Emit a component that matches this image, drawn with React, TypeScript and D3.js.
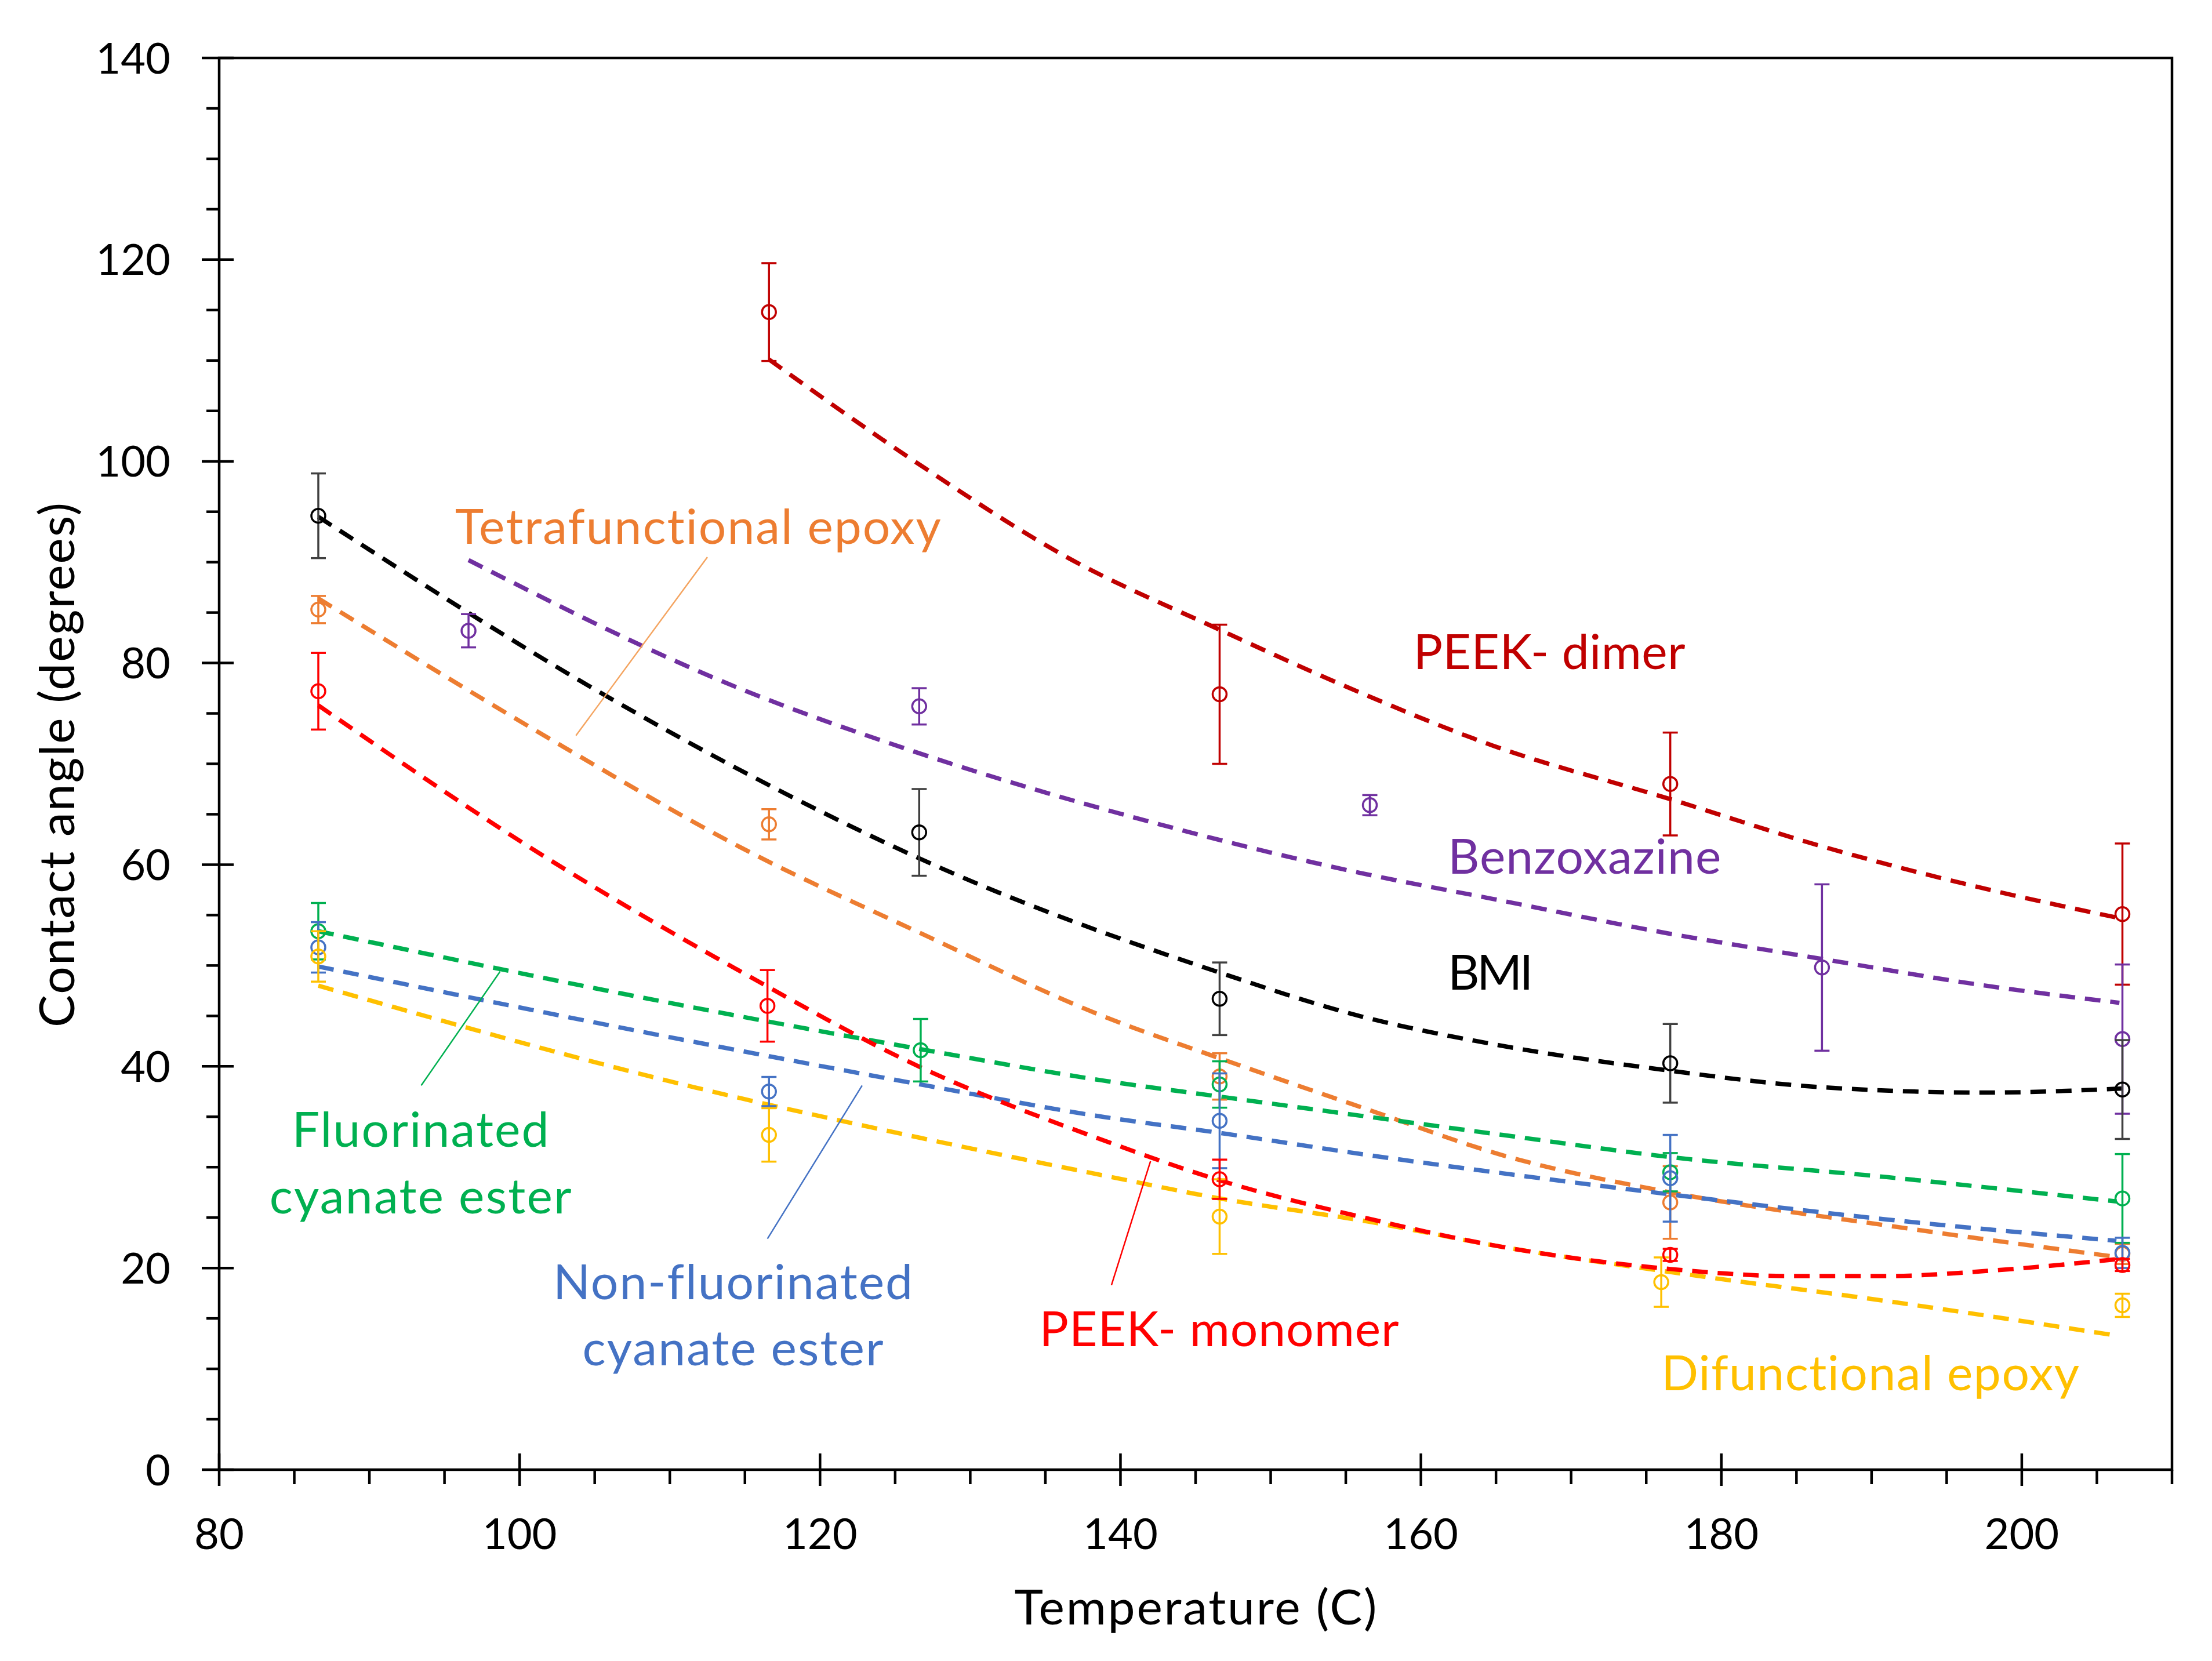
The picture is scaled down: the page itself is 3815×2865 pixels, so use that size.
import { useEffect, useRef } from 'react';
import * as d3 from 'd3';

const WIDTH = 3815;
const HEIGHT = 2865;
const margin = { top: 100, right: 69, bottom: 330, left: 378 };

// measured points (temperature, contact angle, error)
const dimerT = [116.6, 146.6, 176.6, 206.7];
const dimerV = [114.8, 76.9, 68.0, 55.1];
const dimerErr = [4.85, 6.9, 5.1, 7.0];

const benzoT = [96.6, 126.6, 156.6, 186.7, 206.7];
const benzoV = [83.2, 75.7, 65.9, 49.8, 42.7];
const benzoErr = [1.65, 1.8, 1.0, 8.25, 7.4];

const bmiT = [86.6, 126.6, 146.6, 176.6, 206.7];
const bmiV = [94.6, 63.2, 46.7, 40.3, 37.7];
const bmiErr = [4.2, 4.3, 3.6, 3.9, 4.9];

const tetraT = [86.6, 116.6, 146.6, 176.6, 206.7];
const tetraV = [85.3, 64.0, 39.0, 26.5, 21.4];
const tetraErr = [1.35, 1.5, 2.3, 3.6, 1.0];

const monoT = [86.6, 116.5, 146.6, 176.6, 206.7];
const monoV = [77.2, 46.0, 28.8, 21.3, 20.3];
const monoErr = [3.8, 3.55, 1.95, 0.6, 0.6];

const fluorT = [86.6, 126.7, 146.6, 176.6, 206.7];
const fluorV = [53.4, 41.6, 38.2, 29.5, 26.9];
const fluorErr = [2.8, 3.1, 2.3, 1.9, 4.4];

const nonfT = [86.6, 116.6, 146.6, 176.6, 206.7];
const nonfV = [51.8, 37.5, 34.6, 28.9, 21.5];
const nonfErr = [2.5, 1.45, 4.7, 4.3, 1.5];

const difT = [86.6, 116.6, 146.6, 176.0, 206.7];
const difV = [50.9, 33.2, 25.1, 18.6, 16.3];
const difErr = [2.5, 2.65, 3.7, 2.45, 1.15];

// trend curves
const dimerFitT = [116.6, 126.8, 136.3, 146.6, 155.9, 164.8, 176.6, 186.5, 197.6, 206.5];
const dimerFitV = [110.1, 99.5, 90.6, 83.3, 77.1, 71.8, 66.5, 61.9, 57.6, 54.7];

const benzoFitT = [96.6, 114.6, 126.1, 142.6, 155.9, 164.8, 176.4, 186.5, 197.6, 206.5];
const benzoFitV = [90.2, 77.5, 71.3, 64.0, 59.2, 56.6, 53.2, 50.7, 48.0, 46.3];

const bmiFitT = [86.6, 105.8, 114.4, 128.3, 146.6, 155.9, 164.8, 175.9, 186.5, 197.6, 206.7];
const bmiFitV = [94.5, 76.7, 69.6, 59.5, 49.3, 45.0, 42.2, 39.7, 37.95, 37.4, 37.8];

const tetraFitT = [86.6, 102.9, 114.6, 126.7, 138.8, 146.6, 156.5, 165.4, 176.6, 191.1, 206.3];
const tetraFitV = [86.4, 71.7, 61.8, 53.2, 45.0, 40.8, 35.7, 31.2, 27.5, 24.2, 21.1];

const monoFitT = [86.6, 102.2, 114.6, 126.7, 138.8, 146.6, 156.5, 165.4, 176.6, 184.6, 191.1, 197.6, 206.5];
const monoFitV = [75.8, 60.3, 49.5, 39.9, 32.7, 28.7, 24.9, 22.1, 19.9, 19.2, 19.2, 19.7, 20.9];

const fluorFitT = [86.6, 111.7, 126.7, 138.8, 146.6, 156.5, 165.4, 176.6, 191.1, 206.3];
const fluorFitV = [53.4, 45.8, 41.7, 38.6, 37.0, 35.0, 33.2, 31.0, 29.0, 26.6];

const nonfFitT = [86.6, 111.7, 126.7, 138.8, 146.6, 156.5, 165.4, 176.6, 191.1, 206.3];
const nonfFitV = [49.9, 42.4, 38.2, 35.0, 33.4, 31.2, 29.4, 27.3, 24.8, 22.7];

const difFitT = [86.6, 111.7, 126.7, 138.8, 146.6, 156.5, 165.4, 176.6, 191.1, 206.3];
const difFitV = [48.0, 37.9, 32.9, 29.2, 26.9, 24.6, 22.1, 19.6, 16.7, 13.3];

const series = [
  { key: 'dimer', color: '#C00000', t: dimerT, v: dimerV, err: dimerErr, fitT: dimerFitT, fitV: dimerFitV },
  { key: 'benzo', color: '#7030A0', t: benzoT, v: benzoV, err: benzoErr, fitT: benzoFitT, fitV: benzoFitV },
  { key: 'bmi', color: '#000000', errColor: '#404040', t: bmiT, v: bmiV, err: bmiErr, fitT: bmiFitT, fitV: bmiFitV },
  { key: 'tetra', color: '#ED7D31', t: tetraT, v: tetraV, err: tetraErr, fitT: tetraFitT, fitV: tetraFitV },
  { key: 'fluor', color: '#00B050', t: fluorT, v: fluorV, err: fluorErr, fitT: fluorFitT, fitV: fluorFitV },
  { key: 'nonf', color: '#4472C4', t: nonfT, v: nonfV, err: nonfErr, fitT: nonfFitT, fitV: nonfFitV },
  { key: 'dif', color: '#FFC000', t: difT, v: difV, err: difErr, fitT: difFitT, fitV: difFitV },
  { key: 'mono', color: '#FF0000', t: monoT, v: monoV, err: monoErr, fitT: monoFitT, fitV: monoFitV }
];

// annotation text (data coords of the anchor, text width in px)
const labels = [
  { text: 'Tetrafunctional epoxy', color: '#ED7D31', t: 95.7, v: 91.8, anchor: 'start', len: 838 },
  { text: 'PEEK- dimer', color: '#C00000', t: 159.5, v: 79.4, anchor: 'start', len: 469 },
  { text: 'Benzoxazine', color: '#7030A0', t: 161.8, v: 59.1, anchor: 'start', len: 471 },
  { text: 'BMI', color: '#000000', t: 161.8, v: 47.6, anchor: 'start', len: 147 },
  { text: 'Fluorinated', color: '#00B050', t: 93.4, v: 32.0, anchor: 'middle', len: 443 },
  { text: 'cyanate ester', color: '#00B050', t: 93.4, v: 25.4, anchor: 'middle', len: 521 },
  { text: 'Non-fluorinated', color: '#4472C4', t: 114.2, v: 16.9, anchor: 'middle', len: 620 },
  { text: 'cyanate ester', color: '#4472C4', t: 114.2, v: 10.35, anchor: 'middle', len: 519 },
  { text: 'PEEK- monomer', color: '#FF0000', t: 134.6, v: 12.25, anchor: 'start', len: 620 },
  { text: 'Difunctional epoxy', color: '#FFC000', t: 176.0, v: 7.9, anchor: 'start', len: 721 }
];

const leaders = [
  { color: '#F4A460', t1: 112.5, v1: 90.5, t2: 103.75, v2: 72.8 },
  { color: '#00B050', t1: 98.7, v1: 49.4, t2: 93.45, v2: 38.1 },
  { color: '#4472C4', t1: 122.8, v1: 38.1, t2: 116.5, v2: 22.9 },
  { color: '#FF0000', t1: 142.0, v1: 30.6, t2: 139.4, v2: 18.3 }
];

const FONT = 'Lato, "Open Sans", sans-serif';

export default function App() {
  const ref = useRef<SVGSVGElement>(null);

  useEffect(() => {
    if (!ref.current) return;
    const svg = d3.select(ref.current);
    svg.selectAll('*').remove();

    const x = d3.scaleLinear().domain([80, 210]).range([margin.left, WIDTH - margin.right]);
    const y = d3.scaleLinear().domain([0, 140]).range([HEIGHT - margin.bottom, margin.top]);
    const x0 = x(80);
    const y0 = y(0);

    svg.append('rect').attr('width', WIDTH).attr('height', HEIGHT).attr('fill', '#fff');

    // trend curves
    const line = d3
      .line<[number, number]>()
      .x(d => x(d[0]))
      .y(d => y(d[1]))
      .curve(d3.curveMonotoneX);

    svg
      .append('g')
      .selectAll('path')
      .data(series)
      .join('path')
      .attr('d', s => line(s.fitT.map((t, i) => [t, s.fitV[i]] as [number, number])))
      .attr('fill', 'none')
      .attr('stroke', s => s.color)
      .attr('stroke-width', 7.5)
      .attr('stroke-dasharray', '27 17');

    // points with error bars
    series.forEach(s => {
      const g = svg.append('g');
      const pts = s.t.map((t, i) => ({ t, v: s.v[i], e: s.err[i] }));
      const ec = s.errColor || s.color;
      g.selectAll('line.bar')
        .data(pts)
        .join('line')
        .attr('x1', d => x(d.t))
        .attr('x2', d => x(d.t))
        .attr('y1', d => y(d.v - d.e))
        .attr('y2', d => y(d.v + d.e))
        .attr('stroke', ec)
        .attr('stroke-width', 3.5);
      [1, -1].forEach(sign => {
        g.append('g')
          .selectAll('line')
          .data(pts)
          .join('line')
          .attr('x1', d => x(d.t) - 13)
          .attr('x2', d => x(d.t) + 13)
          .attr('y1', d => y(d.v + sign * d.e))
          .attr('y2', d => y(d.v + sign * d.e))
          .attr('stroke', ec)
          .attr('stroke-width', 3.5);
      });
      g.selectAll('circle')
        .data(pts)
        .join('circle')
        .attr('cx', d => x(d.t))
        .attr('cy', d => y(d.v))
        .attr('r', 12)
        .attr('fill', 'none')
        .attr('stroke', s.color)
        .attr('stroke-width', 3.5);
    });

    // leader lines
    svg
      .append('g')
      .selectAll('line')
      .data(leaders)
      .join('line')
      .attr('x1', d => x(d.t1))
      .attr('y1', d => y(d.v1))
      .attr('x2', d => x(d.t2))
      .attr('y2', d => y(d.v2))
      .attr('stroke', d => d.color)
      .attr('stroke-width', 2.5);

    // annotation labels
    svg
      .append('g')
      .style('font-family', FONT)
      .style('font-size', '84px')
      .selectAll('text')
      .data(labels)
      .join('text')
      .attr('x', d => x(d.t))
      .attr('y', d => y(d.v))
      .attr('text-anchor', d => d.anchor)
      .attr('textLength', d => d.len)
      .attr('fill', d => d.color)
      .style('font-variant-ligatures', 'none')
      .style('font-feature-settings', '"liga" 0, "clig" 0, "dlig" 0')
      .text(d => d.text);

    // frame
    svg
      .append('rect')
      .attr('x', x0)
      .attr('y', y(140))
      .attr('width', x(210) - x0)
      .attr('height', y0 - y(140))
      .attr('fill', 'none')
      .attr('stroke', '#000')
      .attr('stroke-width', 4.5);

    const axes = svg.append('g').attr('stroke', '#000').attr('stroke-width', 4.5);

    // y ticks
    const yMajor = d3.range(0, 141, 20);
    const yMinor = d3.range(0, 141, 5).filter(v => v % 20 !== 0);
    axes.append('g').selectAll('line').data(yMajor).join('line')
      .attr('x1', x0 - 30).attr('x2', x0 + 25)
      .attr('y1', d => y(d)).attr('y2', d => y(d));
    axes.append('g').selectAll('line').data(yMinor).join('line')
      .attr('x1', x0 - 22).attr('x2', x0)
      .attr('y1', d => y(d)).attr('y2', d => y(d));

    // x ticks
    const xMajor = d3.range(80, 211, 20);
    const xMinor = d3.range(80, 211, 5).filter(v => v % 20 !== 0);
    axes.append('g').selectAll('line').data(xMajor).join('line')
      .attr('y1', y0 - 28).attr('y2', y0 + 28)
      .attr('x1', d => x(d)).attr('x2', d => x(d));
    axes.append('g').selectAll('line').data(xMinor).join('line')
      .attr('y1', y0).attr('y2', y0 + 25)
      .attr('x1', d => x(d)).attr('x2', d => x(d));

    const tickText = svg.append('g').style('font-family', FONT).style('font-size', '74px').attr('fill', '#000');
    tickText.append('g').selectAll('text').data(yMajor).join('text')
      .attr('x', x0 - 84)
      .attr('y', d => y(d))
      .attr('dy', '0.36em')
      .attr('text-anchor', 'end')
      .text(d => d);
    tickText.append('g').selectAll('text').data(xMajor).join('text')
      .attr('x', d => x(d))
      .attr('y', y0 + 137)
      .attr('text-anchor', 'middle')
      .text(d => d);

    // axis titles
    svg.append('text')
      .attr('x', (x(80) + x(210)) / 2)
      .attr('y', 2802)
      .attr('text-anchor', 'middle')
      .style('font-family', FONT)
      .style('font-size', '84px')
      .attr('textLength', 625)
      .text('Temperature (C)');

    svg.append('text')
      .attr('transform', `translate(128, ${(y(0) + y(140)) / 2 + 2}) rotate(-90)`)
      .attr('text-anchor', 'middle')
      .style('font-family', FONT)
      .style('font-size', '84px')
      .attr('textLength', 905)
      .text('Contact angle (degrees)');
  }, []);

  return (
    <svg
      ref={ref}
      width={WIDTH}
      height={HEIGHT}
      style={{ position: 'absolute', left: 0, top: 0, display: 'block' }}
    />
  );
}
